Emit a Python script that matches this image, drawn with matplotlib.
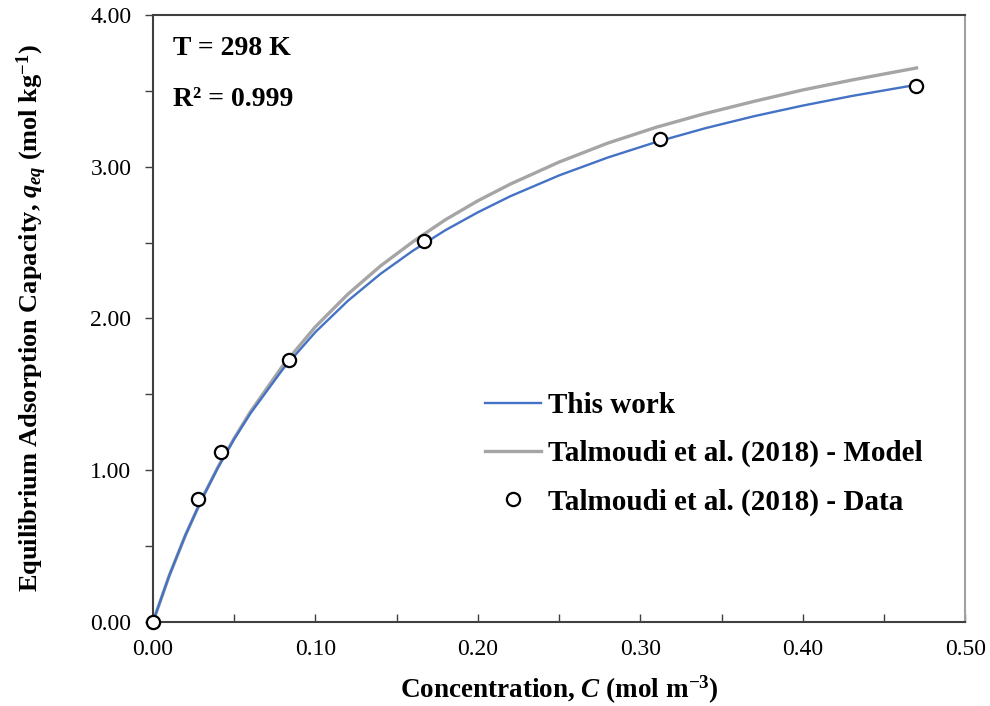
import matplotlib
matplotlib.use("Agg")
import matplotlib.pyplot as plt
from matplotlib.ticker import MultipleLocator, FormatStrFormatter

plt.rcParams["font.family"] = "Liberation Serif"
plt.rcParams["mathtext.fontset"] = "custom"
plt.rcParams["mathtext.rm"] = "Liberation Serif:bold"
plt.rcParams["mathtext.it"] = "Liberation Serif:italic:bold"
plt.rcParams["mathtext.bf"] = "Liberation Serif:bold"

# model curves (concentration in mol m-3, uptake in mol kg-1)
c_model = [0, 0.01, 0.02, 0.03, 0.04, 0.05, 0.06, 0.08, 0.10, 0.12, 0.14, 0.16,
           0.18, 0.20, 0.22, 0.25, 0.28, 0.31, 0.34, 0.37, 0.40, 0.43, 0.47]
q_this_work = [0, 0.305, 0.572, 0.808, 1.017, 1.205, 1.374, 1.666, 1.910, 2.116,
               2.293, 2.446, 2.581, 2.699, 2.805, 2.942, 3.060, 3.163, 3.253,
               3.332, 3.402, 3.465, 3.539]
q_talmoudi_model = [0, 0.305, 0.572, 0.808, 1.02, 1.21, 1.385, 1.69, 1.945, 2.16,
                    2.345, 2.505, 2.65, 2.775, 2.885, 3.03, 3.155, 3.26, 3.35,
                    3.43, 3.505, 3.57, 3.65]

# experimental points
c_data = [0.0, 0.0277, 0.0419, 0.0837, 0.1669, 0.3122, 0.4698]
q_data = [0.0, 0.81, 1.12, 1.727, 2.51, 3.18, 3.53]

fig = plt.figure(figsize=(9.9, 7.06), dpi=100)
ax = fig.add_axes([0.1545, 0.119, 0.8205, 0.860])

ax.plot(c_model, q_this_work, color="#4472C4", lw=1.7, label="This work", zorder=3)
ax.plot(c_model, q_talmoudi_model, color="#A5A5A5", lw=2.4,
        label="Talmoudi et al. (2018) - Model", zorder=2)
ax.plot(c_data, q_data, "o", ms=9.5, mfc="white", mec="black", mew=1.6,
        label="Talmoudi et al. (2018) - Data", zorder=4, clip_on=False)

ax.set_xlim(0, 0.5)
ax.set_ylim(0, 4)
ax.xaxis.set_major_locator(MultipleLocator(0.1))
ax.xaxis.set_minor_locator(MultipleLocator(0.05))
ax.yaxis.set_major_locator(MultipleLocator(1.0))
ax.yaxis.set_minor_locator(MultipleLocator(0.5))
ax.xaxis.set_major_formatter(FormatStrFormatter("%.2f"))
ax.yaxis.set_major_formatter(FormatStrFormatter("%.2f"))
ax.tick_params(which="both", width=1.0, color="#404040", length=5.5, labelsize=17)
ax.tick_params(axis="x", which="both", direction="in", pad=12)
ax.tick_params(axis="y", which="both", direction="out", pad=10)

for s in ax.spines.values():
    s.set_color("#404040")
    s.set_linewidth(1.5)
ax.spines["right"].set_color("#a0a0a0")

ax.set_xlabel(r"Concentration, $C$ (mol m$^{-3}$)", fontsize=19.5, fontweight="bold")
ax.set_ylabel(r"Equilibrium Adsorption Capacity, $q_{eq}$ (mol kg$^{-1}$)",
              fontsize=19, fontweight="bold")
ax.xaxis.set_label_coords(0.5, -0.085)
ax.yaxis.set_label_coords(-0.128, 0.5)

ax.text(0.0123, 3.78, "T = 298 K", fontsize=20, fontweight="bold", va="center")
ax.text(0.0123, 3.44, "R² = 0.999", fontsize=20, fontweight="bold", va="center")

leg = ax.legend(loc="center left", bbox_to_anchor=(0.377, 0.277), frameon=False,
                prop={"weight": "bold", "size": 21}, labelspacing=0.72,
                handlelength=1.9, handletextpad=0.25)

fig.savefig("out.png", dpi=100)
